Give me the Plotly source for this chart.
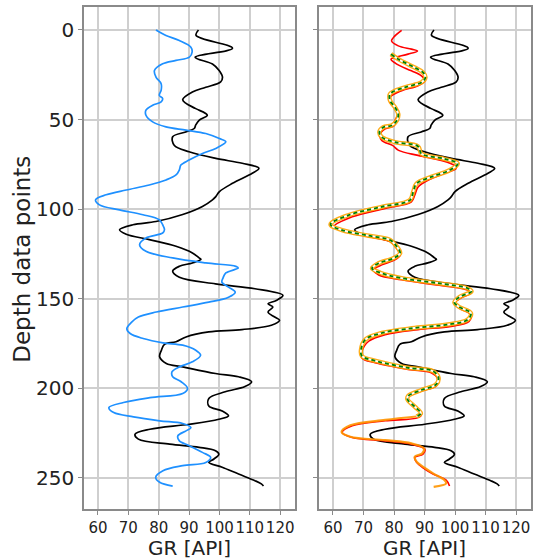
import plotly.graph_objects as go
from plotly.subplots import make_subplots

# ---- data (depth index, GR value) ----
gr_depth = [0, 3, 10.2, 15.2, 19, 22.6, 26.3, 29, 32, 34.6, 38.9, 41, 43.9, 47.6, 50.4, 53, 55, 56.9,
            59.6, 64.3, 68, 71.7, 74.4, 77.2, 80, 85.6, 90.2, 93, 94.8, 98.5, 103, 106.9, 108.7, 111.5,
            114, 117, 120.7, 124.4, 127.2, 128, 130, 131.9, 134.6, 138, 141.7, 144.4, 148.1, 150.9,
            152.8, 154.6, 157.4, 160.2, 162, 164.8, 167.2, 168.5, 171.3, 174, 175.4, 178.7, 182.4,
            186.1, 188, 191.7, 193.5, 196.3, 199, 201.9, 205.6, 209.8, 212.6, 215.4, 217.2, 220, 222.8,
            225.6, 228.3, 231.1, 232.9, 234.8, 236.7, 239.4, 241.3, 244, 247.8, 251.5, 253.3, 254.5]
gr_value = [93.1, 92.3, 104.3, 92, 97.7, 99.9, 101, 100.4, 95.5, 91.1, 87.9, 89, 92.2, 96, 93.3, 92.2, 91.7, 88.9,
            84.6, 85.1, 90, 98.8, 107.5, 113, 110.8, 104.3, 100, 98.8, 97.7, 94.4, 87.9, 79.1, 71.5, 67.1,
            69.3, 76.9, 85.7, 91.1, 93.3, 93.9, 91.1, 86.8, 84.6, 86.8, 98.7, 111.7, 120.9, 118.7,
            116, 117.6, 116, 118.2, 119.8, 117.1, 107.4, 96.5, 89, 85.7, 81.9, 80.9, 80.3,
            82.5, 87.9, 98.7, 106.3, 110.6, 108.4, 101.9, 96.5, 96.5, 100.9, 103, 99.8, 90.1, 77.1,
            72.2, 73.3, 83.6, 93.3, 98.7, 99.8, 98.2, 96.5, 100.9, 106.3, 111.7, 113.8, 114.5]

blue_depth = [0, 3.1, 5.9, 9.6, 12.4, 15.2, 17, 18.9, 22.6, 26.3, 30, 33.7, 36.5, 38.3, 40.2, 42, 44.8, 47.6,
              51.3, 54.1, 55.9, 57.8, 60.6, 62.4, 66.1, 68.9, 72.6, 75.4, 78.1, 80.9, 83.7, 86.5, 89.3, 92,
              94.8, 97.6, 100.4, 103.1, 105.9, 108.7, 111.5, 113.3, 116.1, 119.8, 123.5, 127.2, 130, 131.9,
              132.8, 135.6, 138.3, 140.7, 143.5, 146.3, 149.1, 151.9, 154.6, 157.4, 160.2, 163, 166.7,
              169.4, 172.2, 174.6, 175.9, 178.7, 181.5, 185.2, 188, 190.7, 193.5, 196.3, 200, 202.8, 205.2,
              207.9, 210.7, 213.5, 215.9, 218.1, 219.6, 221.9, 223.7, 226.5, 229.3, 232, 235.7, 238.5,
              241.3, 243.1, 245.9, 249.6, 252.4, 254.5]
blue_value = [79.1, 82.4, 86.8, 90.6, 91, 90.1, 85.7, 81.3, 78.6, 79.1, 80.8, 80.8, 80.2, 81.3, 80.8, 78, 75.8, 75.8,
              78, 82.4, 89, 95.5, 100, 102.1, 98.8, 94.4, 90, 87.3, 86.8, 85.7, 82.4, 76.9, 69.3, 62.7,
              59.2, 60.5, 67.1, 74.8, 80.2, 81.3, 81.9, 81.3, 75.8, 73.7, 75.8, 84.6, 95.5, 105.4,
              106.2, 102.1, 101.2, 100.8, 103, 105.2, 103, 96.5, 87.9, 79.2, 73.3, 71.1, 69.5,
              70.6, 74.9, 81.4, 87.9, 92.2, 93.8, 91.1, 86.8, 84.4, 84.6, 87.4, 89.5, 87.9, 77.1,
              68.4, 63.6, 65.2, 71.7, 80.3, 87.9, 90.6, 89, 86.3, 86.8, 90.1, 94.4, 97.1,
              95.5, 87.9, 81.4, 79, 80.3, 84.6]

red_depth = [0.2, 3.3, 6.1, 8.9, 10.7, 11.7, 13.5, 15.4, 16.3, 19.1, 22.8, 25.6, 28.3, 31.1, 33.9, 37.6, 40.4,
             44.1, 46.9, 50.6, 53.3, 55.2, 58, 61.7, 64.4, 67.2, 70, 72.8, 75.6, 77.4, 79.3, 83, 87.6, 92.2,
             95.9, 99.6, 104.3, 109.8, 112.6, 115.4, 118.1, 121.9, 125.6, 128.3, 131.1, 133.9, 136.7, 139.4,
             142.2, 144.6, 146.5, 149.6, 152.4, 155.2, 158.9, 162.6, 165.4, 167.2, 170, 173.7, 179.3, 183,
             185.7, 189.4, 191.3, 195, 198.7, 201.5, 205.2, 210.7, 214.4, 216.3, 218.1, 220.9, 224.6,
             227.4, 229.3, 231.1, 233.9, 236.7, 238.5, 241.3, 245, 247.8, 251.2, 254.5]
red_value = [82.5, 80.3, 79.2, 81.4, 85.7, 87.7, 84.6, 80.3, 79, 80.9, 85.7, 89, 90.1, 87.9, 82.5, 78.7, 78.7,
             80.9, 81.4, 80.3, 80.1, 77.1, 75.5, 76, 79.5, 81.5, 87.9, 95.5, 99.8, 100.3, 97.6, 92.2, 87.9, 86.8,
             85.7, 77.1, 66.3, 60.3, 64.1, 71.7, 78.7, 80.9, 82, 80.3, 76, 73.3, 75, 82.5,
             93.3, 103, 105.4, 101.9, 99.8, 101.4, 105.2, 104.6, 98.7, 87.9, 77.1, 71.7, 69.5, 69.5,
             73.8, 84.6, 92.2, 94.4, 93.8, 89, 84.4, 86.8, 89, 87.9, 77.1, 66.3, 63,
             66.3, 77.1, 85.7, 90.1, 89.5, 86.8, 87.4, 90.1, 92.8, 97.1, 98.2]

orange_depth = [13.5, 16.3, 21, 23.7, 26.5, 29.3, 32, 35.7, 39.4, 43.1, 46.9, 50.6, 53.3, 54.3, 57, 59.8, 62.6,
                65, 69.1, 71.9, 74.6, 78.3, 82, 85.7, 90.4, 95, 98.7, 103.3, 108.5, 111.7, 114.8, 117.2,
                120.9, 124.6, 127.4, 130.2, 133, 135.5, 138.5, 141.3, 144.1, 145.9, 149.1, 152, 154.6, 158,
                161.7, 164.4, 166.3, 169.1, 172.8, 178.3, 182, 184.8, 188.5, 190.4, 194.1, 197.8, 200.9,
                204.3, 206.1, 210.2, 213.9, 215.7, 217.6, 220.6, 224.3, 227, 228.9, 230.7, 233.5, 236.3,
                238.1, 240.9, 244.4, 247.4, 251.1, 253, 255]
orange_value = [79, 81.4, 86.8, 89.5, 90.3, 89, 83.6, 78.7, 78.7, 80.3, 81.4, 80.9, 79.2, 76.5, 75.2, 76, 80.3,
                87.9, 89, 96.5, 100.9, 98.2, 92.2, 87.4, 86.3, 85.2, 76, 65.2, 59.2, 63, 71.7, 78.7,
                80.9, 82, 79.8, 74.9, 72.8, 75.5, 82.5, 94.4, 104.1, 105.4, 101.4, 99.8, 101.4, 105.2,
                104.1, 97.6, 86.8, 76, 70.6, 69.2, 69.5, 74.3, 84.6, 92.8, 94.6, 93.8, 89,
                84.6, 84.4, 86.8, 88.8, 87.4, 77.1, 65.7, 62.8, 65.7, 77.1, 85.7, 89.8, 89.2,
                86.8, 87.4, 90.1, 92.8, 96.5, 97.1, 93]

n_green = 64  # green dashed series covers the first part of the orange track
green_depth = orange_depth[:n_green]
green_value = orange_value[:n_green]

x_ticks = [60, 70, 80, 90, 100, 110, 120]
y_ticks = [0, 50, 100, 150, 200, 250]

FONT = "DejaVu Sans"

fig = make_subplots(rows=1, cols=2, shared_yaxes=True, horizontal_spacing=0.05)

line_kw = dict(mode="lines", line_shape="spline", showlegend=False, hoverinfo="skip")

# left panel
fig.add_trace(go.Scatter(x=gr_value, y=gr_depth, line=dict(color="black", width=1.7), **line_kw), 1, 1)
fig.add_trace(go.Scatter(x=blue_value, y=blue_depth, line=dict(color="#1E90FF", width=1.7), **line_kw), 1, 1)

# right panel
fig.add_trace(go.Scatter(x=gr_value, y=gr_depth, line=dict(color="black", width=1.7), **line_kw), 1, 2)
fig.add_trace(go.Scatter(x=red_value, y=red_depth, line=dict(color="red", width=1.6), **line_kw), 1, 2)
fig.add_trace(go.Scatter(x=orange_value[n_green - 1:], y=orange_depth[n_green - 1:],
                         line=dict(color="#FF9500", width=2.2), opacity=0.9, **line_kw), 1, 2)
fig.add_trace(go.Scatter(x=orange_value[:n_green], y=orange_depth[:n_green],
                         line=dict(color="orange", width=4.5), opacity=0.9, **line_kw), 1, 2)
fig.add_trace(go.Scatter(x=green_value, y=green_depth, line=dict(color="white", width=1.8), **line_kw), 1, 2)
fig.add_trace(go.Scatter(x=green_value, y=green_depth, line=dict(color="green", width=1.8, dash="4px,3px"), **line_kw), 1, 2)

W, H = 538, 559
ml, mr, mt, mb = 84, 5, 6, 50
pw = W - ml - mr
ph = H - mt - mb

axis_common = dict(
    range=[55.4, 124.9], tickvals=x_ticks, ticktext=[str(v) for v in x_ticks], tickangle=0,
    showgrid=True, gridcolor="#cfcfcf", gridwidth=2,
    showline=True, linecolor="#8a8a8a", linewidth=1.5, mirror=True,
    ticks="outside", ticklen=4, tickcolor="#8a8a8a",
    tickfont=dict(family=FONT, size=15, color="#222"), zeroline=False,
)
fig.update_layout(
    width=W, height=H,
    margin=dict(l=ml, r=mr, t=mt, b=mb),
    plot_bgcolor="white", paper_bgcolor="white",
    xaxis=dict(domain=[0, 212 / pw], **axis_common),
    xaxis2=dict(domain=[(320 - ml) / pw, 1], **axis_common),
    yaxis=dict(range=[267.3, -12.8], tickvals=y_ticks, ticktext=[str(v) for v in y_ticks],
               showgrid=True, gridcolor="#cfcfcf", gridwidth=2,
               showline=True, linecolor="#8a8a8a", linewidth=1.5, mirror=True,
               ticks="outside", ticklen=4, tickcolor="#8a8a8a",
               tickfont=dict(family=FONT, size=20, color="#222"), zeroline=False),
    yaxis2=dict(matches="y", showticklabels=False,
                showgrid=True, gridcolor="#cfcfcf", gridwidth=2,
                showline=True, linecolor="#8a8a8a", linewidth=1.5, mirror=True,
                ticks="outside", ticklen=4, tickcolor="#8a8a8a", zeroline=False),
)

fig.add_annotation(text="Depth data points", xref="paper", yref="paper",
                   x=(22 - ml) / pw, y=(H - mb - 259) / ph, textangle=-90, showarrow=False,
                   font=dict(family=FONT, size=23, color="#222"), xanchor="center", yanchor="middle")
for cx in [(84 + 296) / 2, (320 + 533) / 2]:
    fig.add_annotation(text="GR [API]", xref="paper", yref="paper",
                       x=(cx - ml) / pw, y=(H - mb - 548) / ph, showarrow=False, borderpad=0,
                       font=dict(family=FONT, size=20, color="#222"), xanchor="center", yanchor="middle")

fig.write_html("out.html", config={"displayModeBar": False},
               post_script="document.body.style.margin='0';document.body.style.overflow='hidden';")
